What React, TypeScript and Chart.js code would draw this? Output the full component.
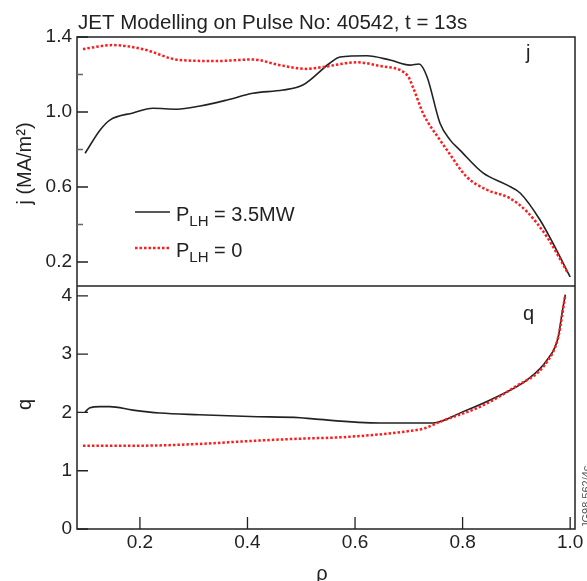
import { useEffect, useRef } from "react";
import { Chart, registerables } from "chart.js";

Chart.register(...registerables);

const TITLE = "JET Modelling on Pulse No: 40542, t = 13s";
const Y_TITLE_TOP = "j (MA/m²)";
const Y_TITLE_BOTTOM = "q";
const X_TITLE = "ρ";
const PANEL_TOP_LABEL = "j";
const PANEL_BOTTOM_LABEL = "q";
const LEGEND_LH = "3.5MW";
const LEGEND_ZERO = "0";
const FIG_ID = "JG98.562/4c";

const rhoTicks = [0.2, 0.4, 0.6, 0.8, 1.0];
const jTicks = [0.2, 0.6, 1.0, 1.4];
const jMinorTicks = [0.4, 0.8, 1.2];
const qTicks = [0, 1, 2, 3, 4];

// j profile, P_LH = 3.5 MW
const jRhoLH = [0.098, 0.126, 0.144, 0.187, 0.224, 0.269, 0.312, 0.362, 0.41, 0.466, 0.503, 0.553, 0.572, 0.622, 0.665, 0.702, 0.719, 0.734, 0.758, 0.777, 0.795, 0.838, 0.883, 0.907, 0.944, 0.968, 1.0];
const jLH = [0.78, 0.904, 0.957, 0.995, 1.02, 1.015, 1.032, 1.064, 1.1, 1.117, 1.144, 1.26, 1.293, 1.3, 1.277, 1.25, 1.256, 1.187, 0.94, 0.85, 0.797, 0.675, 0.61, 0.568, 0.424, 0.3, 0.12];

// j profile, P_LH = 0
const jRho0 = [0.094, 0.15, 0.206, 0.274, 0.343, 0.41, 0.46, 0.51, 0.54, 0.604, 0.647, 0.697, 0.708, 0.727, 0.758, 0.771, 0.808, 0.846, 0.888, 0.92, 0.957, 0.996];
const j0 = [1.336, 1.357, 1.335, 1.277, 1.272, 1.28, 1.25, 1.23, 1.24, 1.265, 1.245, 1.197, 1.13, 0.99, 0.85, 0.797, 0.653, 0.584, 0.54, 0.467, 0.333, 0.14];

// q profile, P_LH = 3.5 MW
const qRhoLH = [0.098, 0.107, 0.126, 0.144, 0.187, 0.237, 0.31, 0.405, 0.498, 0.522, 0.647, 0.745, 0.8, 0.864, 0.92, 0.957, 0.978, 0.985, 0.991];
const qLH = [2.01, 2.08, 2.1, 2.1, 2.04, 1.99, 1.96, 1.93, 1.91, 1.89, 1.82, 1.82, 2.01, 2.27, 2.56, 2.9, 3.3, 3.71, 4.02];

// q profile, P_LH = 0
const qRho0 = [0.094, 0.2, 0.31, 0.405, 0.498, 0.585, 0.7, 0.73, 0.758, 0.833, 0.894, 0.957, 0.978, 0.991];
const q0 = [1.43, 1.43, 1.46, 1.51, 1.55, 1.58, 1.68, 1.73, 1.84, 2.1, 2.42, 2.87, 3.3, 4.02];

const FONT = '"Liberation Sans", Arial, Helvetica, sans-serif';
const INK = "#222222";
const RED = "#ff1c1c";

const pts = (xs: number[], ys: number[]) => xs.map((x, i) => ({ x, y: ys[i] }));

const overlay = {
  id: "overlay",
  afterDraw(chart: any) {
    const ctx: CanvasRenderingContext2D = chart.ctx;
    const { left, right, top, bottom } = chart.chartArea;
    const sx = chart.scales.x;
    const sj = chart.scales.yj;
    const sq = chart.scales.yq;
    ctx.save();
    ctx.strokeStyle = INK;
    ctx.lineWidth = 1.5;
    ctx.strokeRect(left, top, right - left, bottom - top);
    ctx.beginPath();
    ctx.moveTo(left, sj.bottom);
    ctx.lineTo(right, sj.bottom);
    ctx.stroke();

    ctx.lineWidth = 1.3;
    ctx.beginPath();
    for (const v of jTicks) {
      const p = sj.getPixelForValue(v);
      ctx.moveTo(left, p);
      ctx.lineTo(left + 11, p);
    }
    for (const v of qTicks) {
      const p = sq.getPixelForValue(v);
      ctx.moveTo(left, p);
      ctx.lineTo(left + 11, p);
    }
    for (const v of rhoTicks) {
      const p = sx.getPixelForValue(v);
      ctx.moveTo(p, bottom);
      ctx.lineTo(p, bottom - 12);
    }
    ctx.stroke();
    ctx.strokeStyle = "#666";
    ctx.beginPath();
    for (const v of jMinorTicks) {
      const p = sj.getPixelForValue(v);
      ctx.moveTo(left, p);
      ctx.lineTo(left + 6, p);
    }
    ctx.stroke();

    ctx.fillStyle = INK;
    ctx.textAlign = "left";
    ctx.textBaseline = "alphabetic";
    ctx.font = `20.5px ${FONT}`;
    ctx.fillText(TITLE, 78, 29);
    ctx.font = `20px ${FONT}`;
    ctx.fillText(PANEL_TOP_LABEL, 526, 59);
    ctx.fillText(PANEL_BOTTOM_LABEL, 523, 320);

    ctx.textAlign = "center";
    ctx.fillText(X_TITLE, (left + right) / 2 - 4, 580);

    ctx.save();
    ctx.translate(25, (sj.top + sj.bottom) / 2 + 2);
    ctx.rotate(-Math.PI / 2);
    ctx.textBaseline = "middle";
    ctx.fillText(Y_TITLE_TOP, 0, 0);
    ctx.restore();
    ctx.save();
    ctx.translate(25, (sq.top + sq.bottom) / 2 - 3);
    ctx.rotate(-Math.PI / 2);
    ctx.textBaseline = "middle";
    ctx.fillText(Y_TITLE_BOTTOM, 0, 0);
    ctx.restore();

    // legend
    const legendRow = (y: number, value: string, color: string, dashed: boolean) => {
      ctx.save();
      ctx.strokeStyle = color;
      ctx.lineWidth = dashed ? 2.5 : 1.6;
      if (dashed) ctx.setLineDash([2.5, 2]);
      ctx.beginPath();
      ctx.moveTo(135, y);
      ctx.lineTo(170, y);
      ctx.stroke();
      ctx.restore();
      ctx.textAlign = "left";
      ctx.textBaseline = "alphabetic";
      let x = 176;
      ctx.font = `20px ${FONT}`;
      ctx.fillText("P", x, y + 9);
      x += ctx.measureText("P").width;
      ctx.font = `15px ${FONT}`;
      ctx.fillText("LH", x, y + 14);
      x += ctx.measureText("LH").width;
      ctx.font = `20px ${FONT}`;
      ctx.fillText(" = " + value, x, y + 9);
    };
    legendRow(212, LEGEND_LH, INK, false);
    legendRow(248, LEGEND_ZERO, RED, true);

    ctx.save();
    ctx.fillStyle = "#555";
    ctx.font = `11px ${FONT}`;
    ctx.translate(590, 528);
    ctx.rotate(-Math.PI / 2);
    ctx.textAlign = "left";
    ctx.fillText(FIG_ID, 0, 0);
    ctx.restore();

    ctx.restore();
  },
};

export default function App() {
  const ref = useRef<HTMLCanvasElement | null>(null);
  useEffect(() => {
    if (!ref.current) return;
    const tickFont = { family: FONT, size: 19 };
    const chart = new Chart(ref.current, {
      type: "line",
      data: {
        datasets: [
          {
            label: "j LH",
            data: pts(jRhoLH, jLH),
            xAxisID: "x",
            yAxisID: "yj",
            borderColor: INK,
            borderWidth: 1.6,
            pointRadius: 0,
            cubicInterpolationMode: "monotone",
            order: 1,
          },
          {
            label: "j 0",
            data: pts(jRho0, j0),
            xAxisID: "x",
            yAxisID: "yj",
            borderColor: RED,
            borderWidth: 2.5,
            borderDash: [2.5, 2],
            pointRadius: 0,
            cubicInterpolationMode: "monotone",
            order: 0,
          },
          {
            label: "q LH",
            data: pts(qRhoLH, qLH),
            xAxisID: "x",
            yAxisID: "yq",
            borderColor: INK,
            borderWidth: 1.6,
            pointRadius: 0,
            cubicInterpolationMode: "monotone",
            order: 1,
          },
          {
            label: "q 0",
            data: pts(qRho0, q0),
            xAxisID: "x",
            yAxisID: "yq",
            borderColor: RED,
            borderWidth: 2.5,
            borderDash: [2.5, 2],
            pointRadius: 0,
            cubicInterpolationMode: "monotone",
            order: 0,
          },
        ],
      },
      options: {
        animation: false,
        responsive: false,
        devicePixelRatio: 1,
        layout: { padding: { top: 37, right: 12, left: 0, bottom: 0 } },
        plugins: { legend: { display: false }, tooltip: { enabled: false }, title: { display: false } },
        scales: {
          x: {
            type: "linear",
            min: 0.083,
            max: 1.009,
            grid: { display: false, drawTicks: false },
            border: { display: false },
            ticks: {
              font: tickFont,
              color: INK,
              padding: 2,
              maxRotation: 0,
              autoSkip: false,
              callback: (v: any) => Number(v).toFixed(1),
            },
            afterBuildTicks: (s: any) => {
              s.ticks = rhoTicks.map((value) => ({ value }));
            },
            afterFit: (s: any) => {
              s.height = 52;
              s.paddingLeft = 0;
              s.paddingRight = 0;
            },
          },
          yq: {
            type: "linear",
            position: "left",
            stack: "panels",
            stackWeight: 243,
            min: 0,
            max: 4.17,
            grid: { display: false, drawTicks: false },
            border: { display: false },
            ticks: { font: tickFont, color: INK, padding: 5, callback: (v: any) => String(v) },
            afterBuildTicks: (s: any) => {
              s.ticks = qTicks.map((value) => ({ value }));
            },
            afterFit: (s: any) => {
              s.width = 77;
              s.paddingTop = 0;
              s.paddingBottom = 0;
            },
          },
          yj: {
            type: "linear",
            position: "left",
            stack: "panels",
            stackWeight: 249,
            min: 0.072,
            max: 1.4,
            grid: { display: false, drawTicks: false },
            border: { display: false },
            ticks: { font: tickFont, color: INK, padding: 5, callback: (v: any) => Number(v).toFixed(1) },
            afterBuildTicks: (s: any) => {
              s.ticks = jTicks.map((value) => ({ value }));
            },
            afterFit: (s: any) => {
              s.width = 77;
              s.paddingTop = 0;
              s.paddingBottom = 0;
            },
          },
        },
      } as any,
      plugins: [overlay],
    });
    return () => chart.destroy();
  }, []);
  return (
    <div style={{ position: "absolute", left: 0, top: 0, width: 587, height: 581, background: "#fff" }}>
      <canvas ref={ref} width={587} height={581} style={{ display: "block", width: 587, height: 581 }} />
    </div>
  );
}
